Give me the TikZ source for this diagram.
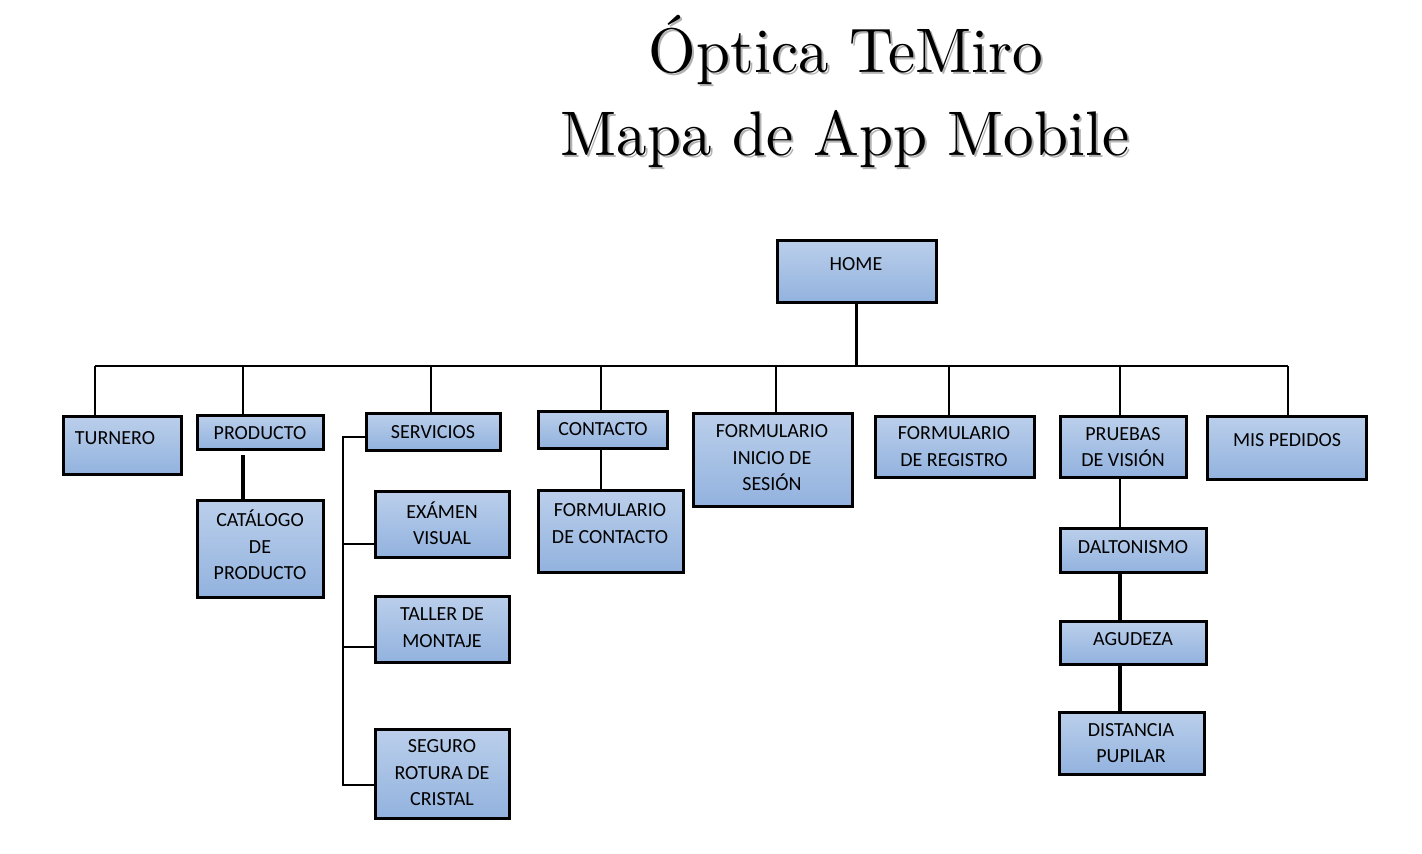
\documentclass[tikz,border=0pt]{standalone}
\usepackage{fontspec}
\newfontfamily\boxfont{Carlito}
\newfontfamily\titlefont{lmroman10-regular}[Extension=.otf]
\usetikzlibrary{shadows}
\definecolor{boxtop}{RGB}{187,207,235}
\definecolor{boxbot}{RGB}{146,178,222}
\newcommand\mkbox[5]{\node[box, minimum width=#4pt, minimum height=#5pt] (#1) at (#2,#3) {};}
\begin{document}
\begin{tikzpicture}[x=1pt,y=-1pt,
  box/.style={draw=black, line width=3pt, top color=boxtop, bottom color=boxbot,
    drop shadow={shadow xshift=2pt, shadow yshift=-2pt, fill=black, opacity=0.3}, inner sep=0pt},
  txt/.style={font=\boxfont\fontsize{20}{26.5}\selectfont, align=center, inner sep=0pt, text=black},
  ttl/.style={font=\titlefont\fontsize{63}{80}\selectfont, inner sep=0pt, anchor=base},
  conn/.style={line width=2.7pt},
  boldconn/.style={line width=4.2pt}]
\useasboundingbox[fill=white] (0,0) rectangle (1422,854);

% title
\node[ttl, text=black!30] (t1s) at (848,74) {\scalebox{0.97}[1]{Óptica TeMiro}};
\node[ttl, text=black!30] (t2s) at (847,157) {\scalebox{0.97}[1]{Mapa de App Mobile}};
\node[ttl] (t1) at (846,72) {\scalebox{0.97}[1]{Óptica TeMiro}};
\node[ttl] (t2) at (845,155) {\scalebox{0.97}[1]{Mapa de App Mobile}};

% bus coordinates
\coordinate (bL) at (95,366);
\coordinate (bR) at (1288,366);
\coordinate (b1) at (95,366);
\coordinate (b2) at (243,366);
\coordinate (b3) at (431,366);
\coordinate (b4) at (601,366);
\coordinate (b5) at (776,366);
\coordinate (b6) at (949,366);
\coordinate (b7) at (1120,366);
\coordinate (b8) at (1288,366);

% boxes
\mkbox{home}{856.5}{271}{159}{62}
\mkbox{turnero}{122}{445}{118}{58}
\mkbox{producto}{260}{432}{126}{34}
\mkbox{catalogo}{260}{548.5}{126}{97}
\mkbox{servicios}{433}{431.5}{134}{37}
\mkbox{examen}{442}{524}{134}{66}
\mkbox{taller}{442}{629}{134}{66}
\mkbox{seguro}{442}{773.5}{134}{89}
\mkbox{contacto}{602.5}{429.5}{129}{37}
\mkbox{formcont}{610.5}{531}{145}{82}
\mkbox{forminicio}{772.5}{459.5}{159}{93}
\mkbox{formreg}{954.5}{446.5}{159}{61}
\mkbox{pruebas}{1123}{446.5}{126}{61}
\mkbox{mispedidos}{1286.5}{447.5}{159}{63}
\mkbox{dalton}{1133}{550}{146}{44}
\mkbox{agudeza}{1133}{642.5}{146}{43}
\mkbox{distancia}{1131.5}{743}{145}{62}

% connectors
\draw[conn] (home.south) -- (home.south |- bL);
\draw[conn] (bL) -- (bR);
\draw[conn] (b1) -- (b1 |- turnero.north);
\draw[conn] (b2) -- (b2 |- producto.north);
\draw[conn] (b3) -- (b3 |- servicios.north);
\draw[conn] (b4) -- (b4 |- contacto.north);
\draw[conn] (b5) -- (b5 |- forminicio.north);
\draw[conn] (b6) -- (b6 |- formreg.north);
\draw[conn] (b7) -- (b7 |- pruebas.north);
\draw[conn] (b8) -- (b8 |- mispedidos.north);

\coordinate (pc) at (243,455);
\draw[boldconn] (pc) -- (pc |- catalogo.north);

\draw[conn] (b4 |- contacto.south) -- (b4 |- formcont.north);

\coordinate (sv) at (343,437);
\coordinate (se) at (343,544);
\coordinate (st) at (343,647);
\coordinate (ss) at (343,785);
\draw[conn] (servicios.west |- sv) -- (sv) -- (ss) -- (ss -| seguro.west);
\draw[conn] (se) -- (se -| examen.west);
\draw[conn] (st) -- (st -| taller.west);

\draw[conn] (b7 |- pruebas.south) -- (b7 |- dalton.north);
\draw[boldconn] (b7 |- dalton.south) -- (b7 |- agudeza.north);
\draw[boldconn] (b7 |- agudeza.south) -- (b7 |- distancia.north);

% texts
\node[txt] (home-t) at (856,264) {HOME};
\node[txt] (turnero-t) at (115,438) {TURNERO};
\node[txt] (producto-t) at (260,433) {PRODUCTO};
\node[txt] (catalogo-t) at (260,545) {CATÁLOGO\\DE\\PRODUCTO};
\node[txt] (servicios-t) at (433,432) {SERVICIOS};
\node[txt] (examen-t) at (442,523) {EXÁMEN\\VISUAL};
\node[txt] (taller-t) at (442,627.5) {TALLER DE\\MONTAJE};
\node[txt] (seguro-t) at (442,773) {SEGURO\\ROTURA DE\\CRISTAL};
\node[txt] (contacto-t) at (603,429) {CONTACTO};
\node[txt] (formcont-t) at (610,523.5) {FORMULARIO\\DE CONTACTO};
\node[txt] (forminicio-t) at (772,458) {FORMULARIO\\INICIO DE\\SESIÓN};
\node[txt] (formreg-t) at (954,446.5) {FORMULARIO\\DE REGISTRO};
\node[txt] (pruebas-t) at (1123,447) {PRUEBAS\\DE VISIÓN};
\node[txt] (mispedidos-t) at (1287,440) {MIS PEDIDOS};
\node[txt] (dalton-t) at (1133,547) {DALTONISMO};
\node[txt] (agudeza-t) at (1133,639) {AGUDEZA};
\node[txt] (distancia-t) at (1131,743) {DISTANCIA\\PUPILAR};
\end{tikzpicture}
\end{document}
